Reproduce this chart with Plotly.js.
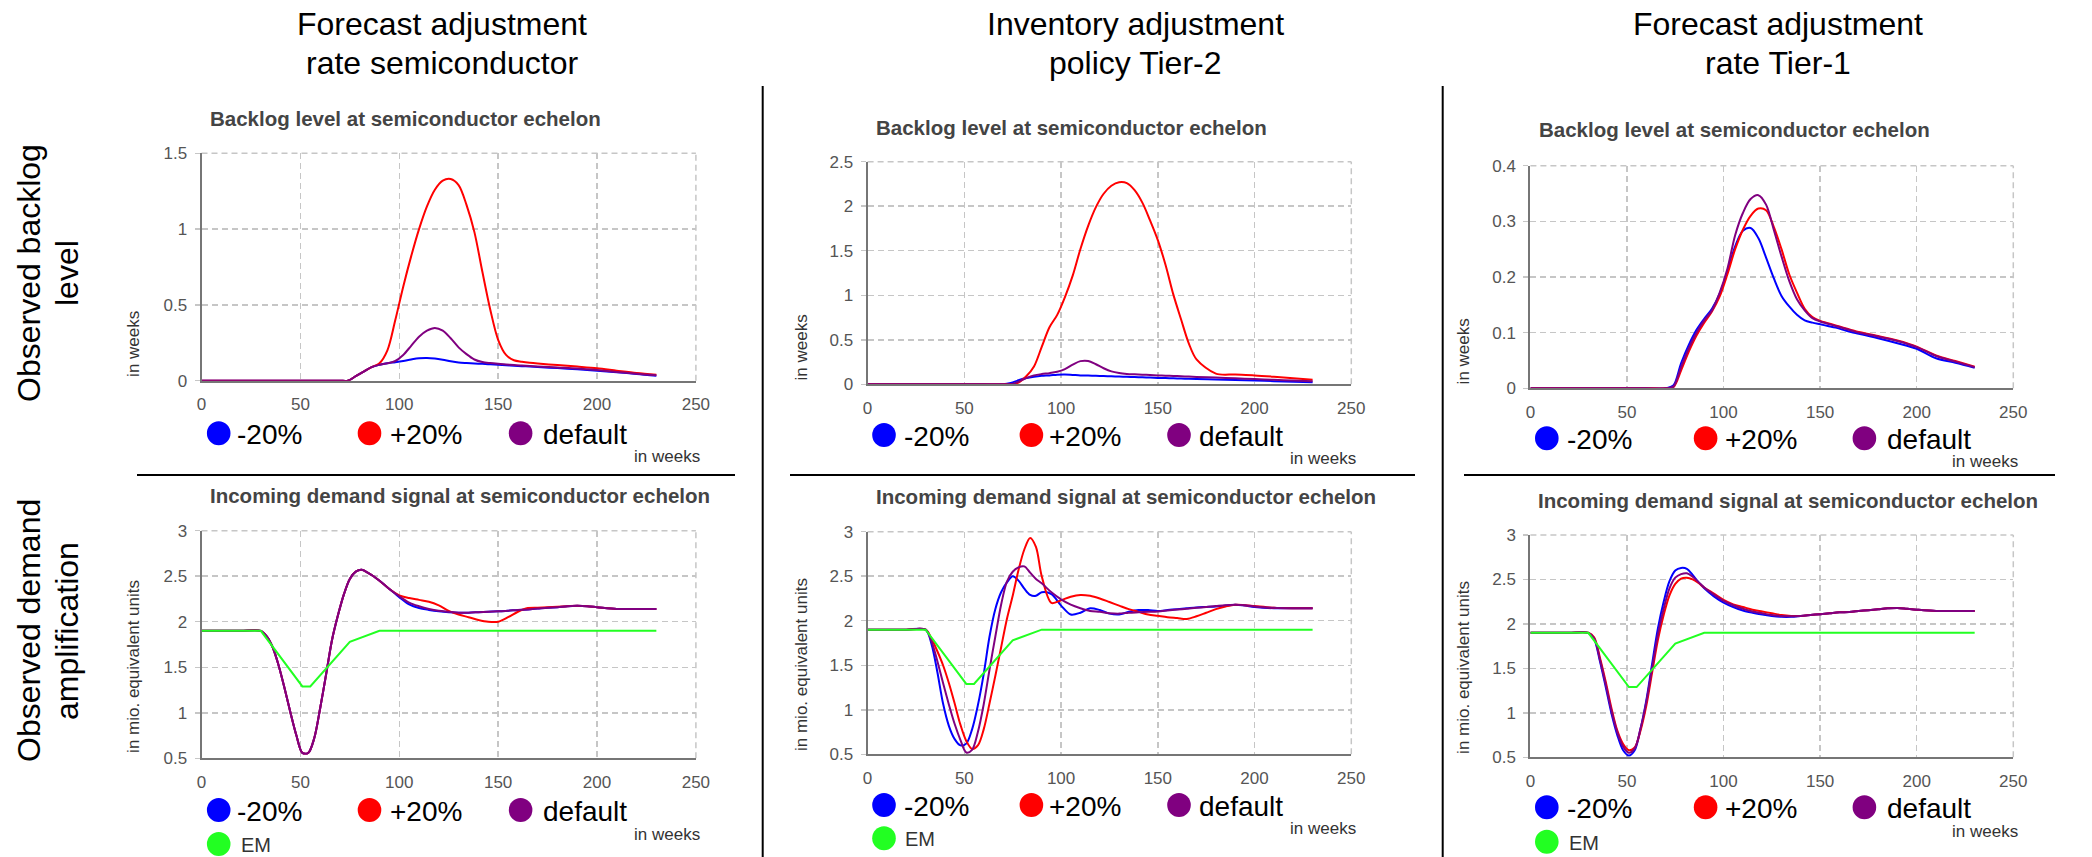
<!DOCTYPE html>
<html>
<head>
<meta charset="utf-8">
<script src="https://cdn.plot.ly/plotly-3.0.1.min.js"></script>
<style>
  html, body { margin: 0; padding: 0; background: #ffffff; }
  #chart { width: 2092px; height: 857px; }
</style>
</head>
<body>
<div id="chart"></div>
<script>
// ---------------- DATA ----------------
const seriesNames = ['-20%', '+20%', 'default', 'EM'];
const seriesColors = ['#0000ff', '#ff0000', '#800080', '#22ff22'];

const columnHeaders = [
  ['Forecast adjustment', 'rate semiconductor'],
  ['Inventory adjustment', 'policy Tier-2'],
  ['Forecast adjustment', 'rate Tier-1']
];
const rowLabels = [
  ['Observed backlog', 'level'],
  ['Observed demand', 'amplification']
];
const backlogTitle = 'Backlog level at semiconductor echelon';
const demandTitle = 'Incoming demand signal at semiconductor echelon';
const backlogUnit = 'in weeks';
const demandUnit = 'in mio. equivalent units';
const xUnit = 'in weeks';

// Backlog level (weeks)
const weeksBacklog = [0,20,40,60,70,74,78,82,86,90,94,98,102,106,110,114,118,122,126,130,134,138,142,146,150,154,158,162,166,170,180,190,200,210,220,230];

const blSemiMinus   = [0,0,0,0,0,0,0.03,0.06,0.09,0.105,0.115,0.122,0.13,0.14,0.148,0.15,0.146,0.138,0.128,0.12,0.116,0.113,0.111,0.108,0.105,0.102,0.099,0.096,0.093,0.09,0.083,0.075,0.065,0.055,0.045,0.033];
const blSemiPlus    = [0,0,0,0,0,0,0.03,0.06,0.09,0.115,0.2,0.4,0.62,0.82,1.0,1.15,1.26,1.32,1.33,1.29,1.16,0.98,0.72,0.47,0.27,0.17,0.135,0.125,0.118,0.113,0.103,0.093,0.082,0.066,0.051,0.04];
const blSemiDefault = [0,0,0,0,0,0,0.03,0.06,0.09,0.105,0.115,0.13,0.17,0.23,0.29,0.33,0.348,0.33,0.28,0.22,0.175,0.14,0.123,0.116,0.111,0.107,0.103,0.1,0.097,0.094,0.087,0.08,0.07,0.058,0.046,0.036];

const blTier2Minus   = [0,0,0,0,0,0.015,0.045,0.07,0.085,0.095,0.1,0.108,0.11,0.105,0.1,0.098,0.096,0.093,0.09,0.087,0.084,0.081,0.078,0.075,0.072,0.07,0.067,0.065,0.062,0.06,0.054,0.048,0.042,0.035,0.028,0.022];
const blTier2Plus    = [0,0,0,0,0,0,0.02,0.09,0.2,0.42,0.64,0.78,0.98,1.22,1.52,1.78,1.99,2.14,2.23,2.27,2.26,2.18,2.04,1.84,1.62,1.34,1.01,0.73,0.46,0.28,0.12,0.11,0.1,0.085,0.068,0.05];
const blTier2Default = [0,0,0,0,0,0,0.03,0.07,0.1,0.115,0.125,0.14,0.17,0.22,0.26,0.262,0.225,0.18,0.145,0.127,0.117,0.112,0.108,0.104,0.1,0.097,0.094,0.09,0.087,0.083,0.075,0.067,0.06,0.05,0.042,0.035];

const blTier1Minus   = [0,0,0,0,0,0.005,0.045,0.078,0.105,0.125,0.143,0.17,0.21,0.255,0.283,0.288,0.27,0.235,0.198,0.166,0.147,0.132,0.122,0.118,0.115,0.112,0.109,0.105,0.101,0.098,0.09,0.081,0.071,0.054,0.046,0.037];
const blTier1Plus    = [0,0,0,0,0,0.002,0.032,0.066,0.095,0.118,0.138,0.165,0.205,0.25,0.285,0.31,0.323,0.32,0.29,0.25,0.205,0.172,0.143,0.128,0.121,0.117,0.113,0.109,0.105,0.101,0.094,0.086,0.075,0.059,0.049,0.039];
const blTier1Default = [0,0,0,0,0,0.003,0.038,0.072,0.1,0.122,0.14,0.172,0.215,0.275,0.315,0.34,0.347,0.33,0.285,0.237,0.193,0.16,0.14,0.126,0.12,0.116,0.112,0.108,0.104,0.1,0.093,0.085,0.074,0.058,0.048,0.038];

// Incoming demand signal (mio. equivalent units)
const weeksDemand = [0,10,20,30,33,36,39,42,45,48,51,54,57,60,63,66,69,72,75,78,81,84,87,90,95,100,105,110,115,120,125,130,135,140,145,150,155,160,165,170,175,180,185,190,195,200,210,220,230];

const dmSemiMinus   = [1.9,1.9,1.9,1.9,1.84,1.72,1.52,1.27,1.0,0.75,0.56,0.56,0.72,1.05,1.42,1.8,2.07,2.3,2.47,2.55,2.57,2.54,2.5,2.45,2.36,2.27,2.19,2.15,2.13,2.115,2.105,2.1,2.1,2.105,2.11,2.115,2.12,2.13,2.135,2.145,2.155,2.16,2.17,2.175,2.17,2.16,2.14,2.14,2.14];
const dmSemiPlus    = [1.9,1.9,1.9,1.9,1.84,1.72,1.52,1.27,1.0,0.75,0.56,0.56,0.72,1.05,1.42,1.8,2.07,2.3,2.47,2.55,2.57,2.54,2.5,2.45,2.36,2.29,2.26,2.24,2.22,2.18,2.12,2.08,2.05,2.02,2.0,2.0,2.05,2.11,2.15,2.155,2.16,2.165,2.17,2.175,2.17,2.16,2.14,2.14,2.14];
const dmSemiDefault = [1.9,1.9,1.9,1.9,1.84,1.72,1.52,1.27,1.0,0.75,0.56,0.56,0.72,1.05,1.42,1.8,2.07,2.3,2.47,2.55,2.57,2.54,2.5,2.45,2.36,2.28,2.21,2.17,2.14,2.12,2.11,2.1,2.1,2.105,2.11,2.115,2.12,2.13,2.135,2.145,2.155,2.16,2.17,2.175,2.17,2.16,2.14,2.14,2.14];

const dmTier2Minus   = [1.9,1.9,1.9,1.9,1.74,1.43,1.07,0.82,0.67,0.6,0.62,0.78,1.05,1.4,1.82,2.13,2.32,2.43,2.5,2.45,2.36,2.29,2.28,2.32,2.3,2.17,2.07,2.09,2.14,2.12,2.08,2.07,2.1,2.12,2.12,2.11,2.12,2.13,2.14,2.15,2.155,2.16,2.17,2.18,2.17,2.155,2.14,2.14,2.14];
const dmTier2Plus    = [1.9,1.9,1.9,1.9,1.8,1.66,1.5,1.3,1.07,0.83,0.65,0.56,0.6,0.78,1.07,1.38,1.7,2.02,2.28,2.57,2.8,2.93,2.83,2.5,2.2,2.23,2.27,2.29,2.28,2.25,2.21,2.17,2.13,2.1,2.07,2.055,2.04,2.03,2.02,2.05,2.09,2.13,2.16,2.18,2.175,2.165,2.145,2.14,2.14];
const dmTier2Default = [1.9,1.9,1.9,1.9,1.77,1.55,1.3,1.06,0.84,0.66,0.52,0.55,0.75,1.06,1.45,1.82,2.18,2.44,2.55,2.6,2.61,2.54,2.47,2.42,2.32,2.24,2.18,2.14,2.11,2.1,2.085,2.08,2.09,2.095,2.1,2.105,2.115,2.125,2.135,2.145,2.155,2.165,2.175,2.18,2.175,2.16,2.145,2.14,2.14];

const dmTier1Minus   = [1.9,1.9,1.9,1.9,1.83,1.58,1.29,0.99,0.75,0.58,0.52,0.58,0.82,1.14,1.55,1.95,2.25,2.48,2.6,2.63,2.62,2.55,2.47,2.4,2.31,2.24,2.19,2.15,2.125,2.105,2.09,2.08,2.08,2.09,2.1,2.11,2.12,2.13,2.135,2.145,2.155,2.165,2.175,2.18,2.17,2.16,2.145,2.145,2.145];
const dmTier1Plus    = [1.9,1.9,1.9,1.9,1.85,1.62,1.35,1.05,0.8,0.65,0.58,0.61,0.8,1.08,1.45,1.82,2.1,2.32,2.45,2.51,2.52,2.5,2.46,2.41,2.34,2.27,2.22,2.19,2.16,2.14,2.12,2.1,2.09,2.09,2.1,2.11,2.12,2.13,2.135,2.145,2.155,2.165,2.175,2.18,2.17,2.16,2.145,2.145,2.145];
const dmTier1Default = [1.9,1.9,1.9,1.9,1.84,1.6,1.32,1.02,0.78,0.62,0.55,0.6,0.82,1.12,1.5,1.88,2.17,2.4,2.52,2.56,2.57,2.53,2.47,2.41,2.33,2.26,2.21,2.17,2.14,2.12,2.1,2.09,2.085,2.09,2.1,2.11,2.12,2.13,2.135,2.145,2.155,2.165,2.175,2.18,2.17,2.16,2.145,2.145,2.145];

// EM reference demand
const emWeeks  = [0,30,51,55,75,90,230];
const emValues = [1.9,1.9,1.29,1.29,1.78,1.9,1.9];

// ---------------- LAYOUT ----------------
const W = 2092, H = 857;
const FONT = 'Liberation Sans, Arial, sans-serif';
const px = v => v / W;
const py = v => 1 - v / H;

const panels = [
  {n:'',  x:[201.5,695.9],  y:[153.3,380.7], yr:[0,1.5], dt:0.5, weeks:weeksBacklog, s:[blSemiMinus,blSemiPlus,blSemiDefault], em:false,
   title:backlogTitle, tX:208, tY:118.3, yt:backlogUnit, ytX:133.4, ytY:343.5, lX:[218.7,369.5,520.6], lTX:[234.8,387.9,540.9], lY:433.3, iwX:702, iwY:456.7},
  {n:'2', x:[867.6,1351.3], y:[161.7,384.3], yr:[0,2.5], dt:0.5, weeks:weeksBacklog, s:[blTier2Minus,blTier2Plus,blTier2Default], em:false,
   title:backlogTitle, tX:873.8, tY:127.3, yt:backlogUnit, ytX:801, ytY:347.5, lX:[884,1031.4,1179], lTX:[901.7,1047,1197], lY:435, iwX:1358, iwY:458.3},
  {n:'3', x:[1530.4,2013.3], y:[165.7,388.3], yr:[0,0.4], dt:0.1, weeks:weeksBacklog, s:[blTier1Minus,blTier1Plus,blTier1Default], em:false,
   title:backlogTitle, tX:1537.2, tY:130, yt:backlogUnit, ytX:1463.4, ytY:351, lX:[1546.8,1705.6,1864.4], lTX:[1564.8,1722.8,1885], lY:438.3, iwX:2020, iwY:461.7},
  {n:'4', x:[201.5,695.9],  y:[530.7,758.3], yr:[0.5,3], dt:0.5, weeks:weeksDemand, s:[dmSemiMinus,dmSemiPlus,dmSemiDefault], em:true,
   title:demandTitle, tX:208, tY:495, yt:demandUnit, ytX:133.4, ytY:666.5, lX:[218.7,369.5,520.6], lTX:[234.8,387.9,540.9], lY:810, emY:844, emTX:238.6, iwX:702, iwY:834},
  {n:'5', x:[867.6,1351.3], y:[531.7,754.3], yr:[0.5,3], dt:0.5, weeks:weeksDemand, s:[dmTier2Minus,dmTier2Plus,dmTier2Default], em:true,
   title:demandTitle, tX:873.8, tY:496.7, yt:demandUnit, ytX:801, ytY:665, lX:[884,1031.4,1179], lTX:[901.7,1047,1197], lY:805, emY:838.3, emTX:903, iwX:1358, iwY:828.3},
  {n:'6', x:[1530.4,2013.3], y:[535,757.3], yr:[0.5,3], dt:0.5, weeks:weeksDemand, s:[dmTier1Minus,dmTier1Plus,dmTier1Default], em:true,
   title:demandTitle, tX:1536, tY:500, yt:demandUnit, ytX:1463.4, ytY:667.5, lX:[1546.8,1705.6,1864.4], lTX:[1564.8,1722.8,1885], lY:807.3, emY:841.7, emTX:1566.7, iwX:2020, iwY:831.7}
];

const traces = [];
const layout = {
  width: W, height: H,
  margin: {l:0, r:0, t:0, b:0, pad:0},
  paper_bgcolor: '#ffffff', plot_bgcolor: '#ffffff',
  showlegend: false,
  font: {family: FONT},
  annotations: [], shapes: []
};

const GRID_COLOR = '#c6c6c6', GRID_W = 1.5, GRID_DASH = '6px,4px';
const gridStyle = {showgrid:true, gridcolor:GRID_COLOR, gridwidth:GRID_W, griddash:GRID_DASH, zeroline:false};

panels.forEach(p => {
  const xa = 'x' + p.n, ya = 'y' + p.n;
  layout['xaxis' + p.n] = Object.assign({
    domain:[px(p.x[0]), px(p.x[1])], range:[0,250], tick0:0, dtick:50, anchor:ya,
    showline:true, linecolor:'#767676', linewidth:2, ticks:'', ticklabelstandoff:7,
    tickfont:{family:FONT, size:17, color:'#555'}, fixedrange:true
  }, gridStyle);
  layout['yaxis' + p.n] = Object.assign({
    domain:[py(p.y[1]), py(p.y[0])], range:p.yr, tick0:p.yr[0], dtick:p.dt, anchor:xa,
    showline:true, linecolor:'#767676', linewidth:2, ticks:'outside', ticklen:5, tickcolor:GRID_COLOR, tickwidth:GRID_W,
    ticklabelstandoff:4, tickfont:{family:FONT, size:17, color:'#555'}, fixedrange:true
  }, gridStyle);

  // edge gridlines (top and right border of the plot area), drawn in axis-domain units
  layout.shapes.push({type:'line', xref:xa + ' domain', yref:ya + ' domain', x0:0, x1:1, y0:1, y1:1,
    layer:'below', line:{color:GRID_COLOR, width:GRID_W, dash:GRID_DASH}});
  layout.shapes.push({type:'line', xref:xa + ' domain', yref:ya + ' domain', x0:1, x1:1, y0:0, y1:1,
    layer:'below', line:{color:GRID_COLOR, width:GRID_W, dash:GRID_DASH}});

  p.s.forEach((vals, i) => {
    traces.push({
      type:'scatter', mode:'lines', x:p.weeks, y:vals, xaxis:xa, yaxis:ya, name:seriesNames[i],
      line:{color:seriesColors[i], width:2, shape:'spline', smoothing:0.9}, hoverinfo:'skip'
    });
  });
  if (p.em) {
    traces.push({
      type:'scatter', mode:'lines', x:emWeeks, y:emValues, xaxis:xa, yaxis:ya, name:seriesNames[3],
      line:{color:seriesColors[3], width:2}, hoverinfo:'skip'
    });
  }

  // subplot title
  layout.annotations.push({xref:'paper', yref:'paper', x:px(p.tX), y:py(p.tY), xanchor:'left', yanchor:'middle',
    text:'<b>' + p.title + '</b>', showarrow:false, font:{family:FONT, size:20.5, color:'#444'}});
  // y unit
  layout.annotations.push({xref:'paper', yref:'paper', x:px(p.ytX), y:py(p.ytY), xanchor:'center', yanchor:'middle',
    text:p.yt, textangle:-90, showarrow:false, font:{family:FONT, size:17, color:'#333'}});
  // x unit
  layout.annotations.push({xref:'paper', yref:'paper', x:px(p.iwX), y:py(p.iwY), xanchor:'right', yanchor:'middle',
    text:xUnit, showarrow:false, font:{family:FONT, size:17, color:'#333'}});

  // legend
  const items = p.em ? 4 : 3;
  for (let i = 0; i < items; i++) {
    const cx = i < 3 ? p.lX[i] : p.lX[0];
    const cy = i < 3 ? p.lY : p.emY;
    const tx = i < 3 ? p.lTX[i] : p.emTX;
    layout.shapes.push({type:'circle', xref:'paper', yref:'paper',
      x0:px(cx - 11.8), x1:px(cx + 11.8), y0:py(cy + 12), y1:py(cy - 12),
      fillcolor:seriesColors[i], line:{width:0}});
    layout.annotations.push({xref:'paper', yref:'paper', x:px(tx), y:py(cy + 1), xanchor:'left', yanchor:'middle',
      text:seriesNames[i], showarrow:false,
      font:{family:FONT, size: i < 3 ? 28 : 20, color: i < 3 ? '#000' : '#333'}});
  }
});

// column headers
const headerX = [442, 1135.5, 1778];
columnHeaders.forEach((lines, c) => {
  lines.forEach((t, k) => {
    layout.annotations.push({xref:'paper', yref:'paper', x:px(headerX[c]), y:py(k === 0 ? 24 : 63),
      xanchor:'center', yanchor:'middle', text:t, showarrow:false, font:{family:FONT, size:32, color:'#000'}});
  });
});
// row labels
const rowY = [273, 631];
const rowLineX = [29, 67];
rowLabels.forEach((lines, r) => {
  lines.forEach((t, k) => {
    layout.annotations.push({xref:'paper', yref:'paper', x:px(rowLineX[k]), y:py(rowY[r]),
      xanchor:'center', yanchor:'middle', text:t, textangle:-90, showarrow:false, font:{family:FONT, size:32, color:'#000'}});
  });
});

// separators
[762.7, 1442.7].forEach(x => {
  layout.shapes.push({type:'line', xref:'paper', yref:'paper', x0:px(x), x1:px(x), y0:py(86), y1:py(857),
    line:{color:'#000', width:2}});
});
[[137,735],[790,1415],[1464,2055]].forEach(([a,b]) => {
  layout.shapes.push({type:'line', xref:'paper', yref:'paper', x0:px(a), x1:px(b), y0:py(475), y1:py(475),
    line:{color:'#000', width:2}});
});

Plotly.newPlot('chart', traces, layout, {staticPlot:true, displayModeBar:false});
</script>
</body>
</html>
